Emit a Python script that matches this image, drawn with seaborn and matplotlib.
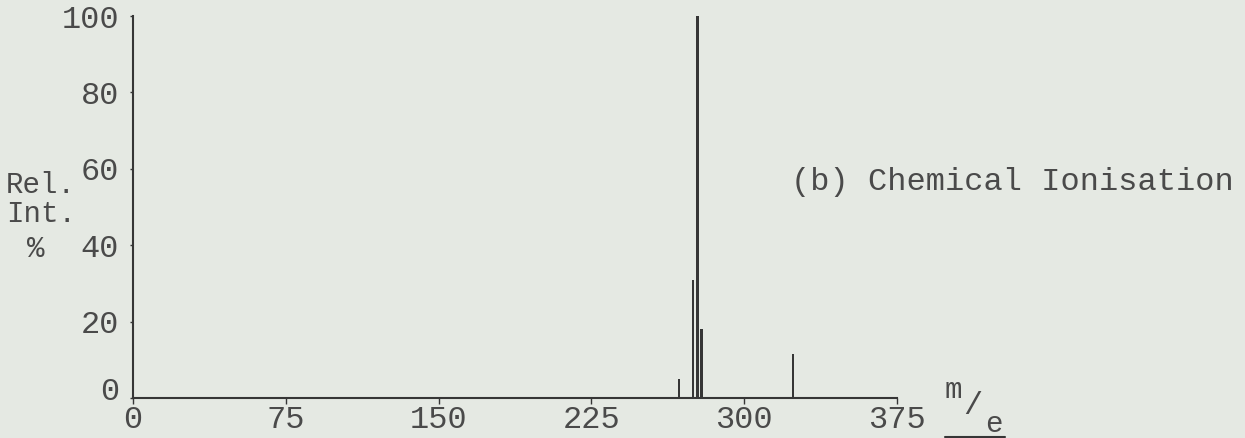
import matplotlib
matplotlib.use("Agg")
import matplotlib.pyplot as plt
import matplotlib.transforms as mtransforms
import seaborn as sns
import pandas as pd

# data
mz = [268, 275, 277, 279, 324]
intensity = [5, 31, 100, 18, 11.5]
x_ticks = [0, 75, 150, 225, 300, 375]
y_ticks = [0, 20, 40, 60, 80, 100]

BG = "#e5e9e3"
INK = "#363636"
TXT = "#4a4a4a"
FONT = ["Liberation Mono", "DejaVu Sans Mono"]
FS = 23

sns.set_theme(style="white")
plt.rcParams["font.family"] = FONT

W, H = 1245, 438
fig = plt.figure(figsize=(W / 100, H / 100), dpi=100, facecolor=BG)
ax = fig.add_axes([133 / W, (H - 398) / H, 764 / W, 382 / H])
ax.set_facecolor(BG)

df = pd.DataFrame({"mz": mz, "intensity": intensity})
sns.barplot(data=df, x="mz", y="intensity", native_scale=True, width=0.6,
            color=INK, saturation=1, linewidth=0, ax=ax)

ax.set_xlim(0, 375)
ax.set_ylim(0, 100)
ax.set_xticks(x_ticks)
ax.set_yticks(y_ticks)
ax.set_xticklabels([str(v) for v in x_ticks])
ax.set_yticklabels([str(v) for v in y_ticks])
ax.set_xlabel("")
ax.set_ylabel("")

for s in ["top", "right"]:
    ax.spines[s].set_visible(False)
for s in ["left", "bottom"]:
    ax.spines[s].set_color(INK)
    ax.spines[s].set_linewidth(1.5)

ax.tick_params(axis="x", direction="out", length=4, width=1, color=INK,
               labelsize=FS, labelcolor=TXT, pad=1)
ax.tick_params(axis="y", direction="out", length=2, width=1, color=INK,
               labelsize=FS, labelcolor=TXT, pad=8)
ax.tick_params(bottom=True, left=True)

# shift y "0" label up a little, as in the reference
lbl0 = ax.get_yticklabels()[0]
lbl0.set_transform(lbl0.get_transform() + mtransforms.ScaledTranslation(0, 10 / 100, fig.dpi_scale_trans))

def fx(px):
    return px / W

def fy(py):
    return 1 - py / H

fig.text(fx(6), fy(185), "Rel.", fontsize=21, color=TXT, va="center", ha="left")
fig.text(fx(6), fy(214), "Int.", fontsize=21, color=TXT, va="center", ha="left")
fig.text(fx(36), fy(249), "%", fontsize=21, color=TXT, va="center", ha="center")

fig.text(fx(791), fy(182), "(b) Chemical Ionisation", fontsize=FS, color=TXT,
         va="center", ha="left")

fig.text(fx(953), fy(390), "m", fontsize=21, color=TXT, va="center", ha="center")
fig.text(fx(973), fy(406), "/", fontsize=23, color=TXT, va="center", ha="center")
fig.text(fx(994), fy(424), "e", fontsize=21, color=TXT, va="center", ha="center")
fig.add_artist(plt.Line2D([fx(945), fx(1005)], [fy(436.5), fy(436.5)], color=INK, lw=1.5))

fig.savefig("out.png", dpi=100, facecolor=BG)
